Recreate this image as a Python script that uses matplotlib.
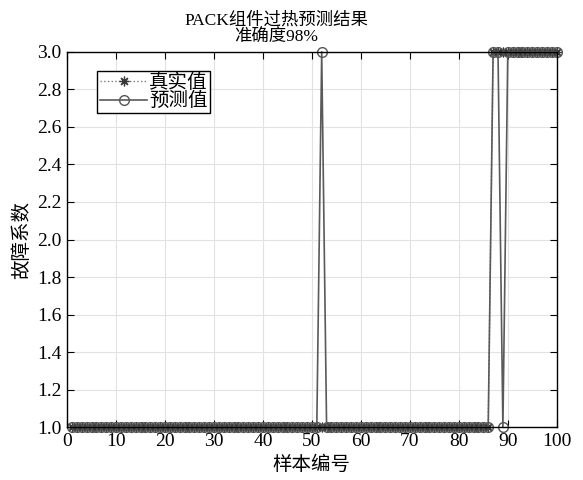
import numpy as np
import matplotlib.pyplot as plt

# sample index and fault coefficients (1 = normal, 3 = overheat)
samples = np.arange(1, 101)
trueVals = [1] * 86 + [3] * 14
predVals = [1] * 51 + [3] + [1] * 34 + [3, 3, 1] + [3] * 11
yTicks = [1.0, 1.2, 1.4, 1.6, 1.8, 2.0, 2.2, 2.4, 2.6, 2.8, 3.0]
xTicks = [0, 10, 20, 30, 40, 50, 60, 70, 80, 90, 100]

fonts = ['Liberation Serif', 'Noto Sans CJK SC']
plt.rcParams['font.family'] = fonts
plt.rcParams['axes.unicode_minus'] = False

fig = plt.figure(figsize=(5.83, 4.8), dpi=100)
ax = fig.add_axes([0.115, 0.11, 0.84, 0.782])

# asterisk marker with 8 spokes
ax.plot(samples, trueVals, linestyle=':', color='#7a7a7a', marker=(8, 2, 0),
        markersize=7, markeredgecolor='#383838', markeredgewidth=0.9,
        linewidth=1.0, label='真实值', clip_on=False, zorder=3)
ax.plot(samples, predVals, linestyle='-', color='#5a5a5a', marker='o',
        markersize=7, markerfacecolor='none', markeredgecolor='#555555',
        markeredgewidth=1.0, linewidth=1.2, label='预测值', clip_on=False,
        zorder=4)

ax.set_xlim(0, 100)
ax.set_ylim(1.0, 3.0)
ax.set_xticks(xTicks)
ax.set_yticks(yTicks)
ax.set_yticklabels([f'{v:.1f}' for v in yTicks])
ax.tick_params(direction='in', top=True, right=True, labelsize=14, length=5,
               pad=4)
ax.grid(True, color='#e2e2e2', linewidth=0.8)
ax.set_axisbelow(True)
for s in ax.spines.values():
    s.set_linewidth(1.0)
    s.set_zorder(5)

ax.set_xlabel('样本编号', fontsize=14, labelpad=4)
ax.set_ylabel('故障系数', fontsize=14, labelpad=4)
ax.set_title('PACK组件过热预测结果\n准确度98%', fontsize=12.5, pad=7,
             linespacing=1.15, x=0.427)

leg = ax.legend(loc='upper left', bbox_to_anchor=(0.062, 0.95), fontsize=14,
                frameon=True, fancybox=False, edgecolor='black',
                handlelength=2.4, borderpad=0.15, labelspacing=0.0,
                handletextpad=0.1, borderaxespad=0, framealpha=1)
leg.get_frame().set_linewidth(1.0)

fig.savefig('out.png', dpi=100)
